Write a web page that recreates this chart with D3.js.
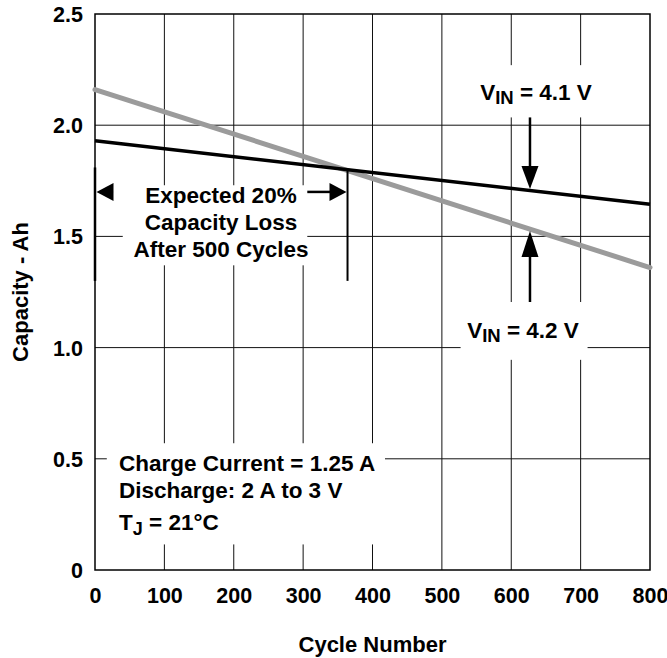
<!DOCTYPE html>
<html>
<head>
<meta charset="utf-8">
<script src="https://cdn.jsdelivr.net/npm/d3@7"></script>
<style>
  html, body { margin: 0; padding: 0; background: #fff; }
  svg { display: block; font-family: "Liberation Sans", Arial, Helvetica, sans-serif; font-weight: bold; }
</style>
</head>
<body>
<svg id="chart" width="667" height="658"></svg>
<script>
// Capacity vs. cycle number for two charge voltages
const cycles = [0, 800];
const capacityVin41 = [1.93, 1.645];   // V_IN = 4.1 V
const capacityVin42 = [2.16, 1.36];    // V_IN = 4.2 V
const xTicks = [0, 100, 200, 300, 400, 500, 600, 700, 800];
const yTicks = [0, 0.5, 1.0, 1.5, 2.0, 2.5];
const yTickLabels = ["0", "0.5", "1.0", "1.5", "2.0", "2.5"];

// annotation anchors (data units)
const lossStart = 0, lossEnd = 364, lossArrowY = 1.70, lossTop = 1.81, lossBottom = 1.30;
const vinArrowX = 627;

const margin = { left: 95, top: 14, right: 17, bottom: 88 };
const W = 667, H = 658;
const pw = W - margin.left - margin.right;
const ph = H - margin.top - margin.bottom;

const svg = d3.select("#chart");
const g = svg.append("g").attr("transform", `translate(${margin.left},${margin.top})`);

const x = d3.scaleLinear().domain([0, 800]).range([0, pw]);
const y = d3.scaleLinear().domain([0, 2.5]).range([ph, 0]);

// grid
g.append("g").selectAll("line").data(xTicks.slice(1, -1)).join("line")
  .attr("x1", d => x(d)).attr("x2", d => x(d)).attr("y1", 0).attr("y2", ph)
  .attr("stroke", "#111").attr("stroke-width", 1);
g.append("g").selectAll("line").data(yTicks.slice(1, -1)).join("line")
  .attr("y1", d => y(d)).attr("y2", d => y(d)).attr("x1", 0).attr("x2", pw)
  .attr("stroke", "#111").attr("stroke-width", 1);

// white panels behind the annotation text
const panels = [
  { x0: 40, x1: 306, y0: 1.73, y1: 1.37 },
  { x0: 17, x1: 418, y0: 0.57, y1: 0.115 },
  { x0: 540, x1: 720, y0: 2.27, y1: 2.035 },
  { x0: 527, x1: 710, y0: 1.205, y1: 0.945 }
];
g.append("g").selectAll("rect").data(panels).join("rect")
  .attr("x", d => x(d.x0)).attr("width", d => x(d.x1) - x(d.x0))
  .attr("y", d => y(d.y0)).attr("height", d => y(d.y1) - y(d.y0))
  .attr("fill", "#fff");

// frame
g.append("rect").attr("x", 0).attr("y", 0).attr("width", pw).attr("height", ph)
  .attr("fill", "none").attr("stroke", "#000").attr("stroke-width", 1.5);

// axes labels
const xAxis = d3.axisBottom(x).tickValues(xTicks).tickSize(0).tickPadding(0).tickFormat(d3.format("d"));
const xa = g.append("g").attr("transform", `translate(0,${ph})`).call(xAxis);
xa.select(".domain").remove();
xa.selectAll("text").attr("dy", null).attr("y", 33).attr("font-size", 21.5)
  .attr("font-family", "Liberation Sans, Arial, sans-serif").attr("font-weight", "bold").attr("fill", "#000");

const yAxis = d3.axisLeft(y).tickValues(yTicks).tickSize(0).tickPadding(0)
  .tickFormat((d, i) => yTickLabels[i]);
const ya = g.append("g").call(yAxis);
ya.select(".domain").remove();
ya.selectAll("text").attr("dy", null).attr("x", -12).attr("y", 7.5).attr("font-size", 21.5)
  .attr("font-family", "Liberation Sans, Arial, sans-serif").attr("font-weight", "bold").attr("fill", "#000");

svg.append("text").attr("x", margin.left + pw / 2).attr("y", 652).attr("text-anchor", "middle")
  .attr("font-size", 22).text("Cycle Number");
svg.append("text").attr("transform", `translate(28,${margin.top + ph / 2}) rotate(-90)`)
  .attr("text-anchor", "middle").attr("font-size", 22).text("Capacity - Ah");

// data lines
const line = d3.line().x(d => x(d[0])).y(d => y(d[1]));
g.append("path").datum(cycles.map((c, i) => [c, capacityVin42[i]])).attr("d", line)
  .attr("fill", "none").attr("stroke", "#9b9b9b").attr("stroke-width", 5).attr("stroke-linecap", "round");
g.append("path").datum(cycles.map((c, i) => [c, capacityVin41[i]])).attr("d", line)
  .attr("fill", "none").attr("stroke", "#000").attr("stroke-width", 3.5).attr("stroke-linecap", "butt");

// value on a straight series at a given cycle
const at = (arr, c) => arr[0] + (arr[1] - arr[0]) * (c - cycles[0]) / (cycles[1] - cycles[0]);

// arrowhead helper: tip at (tx,ty), direction dx,dy (unit), length L, half-width hw
function arrowHead(tx, ty, dx, dy, L, hw) {
  const bx = tx - dx * L, by = ty - dy * L;
  const px = -dy * hw, py = dx * hw;
  g.append("path").attr("d", `M${tx},${ty}L${bx + px},${by + py}L${bx - px},${by - py}Z`).attr("fill", "#000");
}

// 20 % loss span markers
g.append("line").attr("x1", x(lossStart)).attr("x2", x(lossStart)).attr("y1", y(lossTop)).attr("y2", y(lossBottom))
  .attr("stroke", "#000").attr("stroke-width", 2.5);
g.append("line").attr("x1", x(lossEnd)).attr("x2", x(lossEnd)).attr("y1", y(at(capacityVin41, lossEnd))).attr("y2", y(lossBottom))
  .attr("stroke", "#000").attr("stroke-width", 2);
const ay = y(lossArrowY);
g.append("line").attr("x1", x(lossStart) + 15).attr("x2", x(26)).attr("y1", ay).attr("y2", ay).attr("stroke", "#000").attr("stroke-width", 2.5);
arrowHead(x(lossStart) + 1.5, ay, -1, 0, 17, 9);
g.append("line").attr("x1", x(306)).attr("x2", x(lossEnd) - 15).attr("y1", ay).attr("y2", ay).attr("stroke", "#000").attr("stroke-width", 2.5);
arrowHead(x(lossEnd) - 1, ay, 1, 0, 17, 9);

// V_IN arrows
const ax = x(vinArrowX);
const tip41 = y(at(capacityVin41, vinArrowX)) - 1.5;
g.append("line").attr("x1", ax).attr("x2", ax).attr("y1", y(2.035)).attr("y2", tip41 - 20).attr("stroke", "#000").attr("stroke-width", 2.5);
arrowHead(ax, tip41, 0, 1, 23, 8.5);
const tip42 = y(at(capacityVin42, vinArrowX)) + 2;
g.append("line").attr("x1", ax).attr("x2", ax).attr("y1", tip42 + 20).attr("y2", y(1.205)).attr("stroke", "#000").attr("stroke-width", 2.5);
arrowHead(ax, tip42, 0, -1, 26, 8.5);

// text annotations
const ann = svg.append("g").attr("font-size", 22.5).attr("fill", "#000");
const lossLines = ["Expected 20%", "Capacity Loss", "After 500 Cycles"];
ann.append("g").selectAll("text").data(lossLines).join("text")
  .attr("x", 221).attr("y", (d, i) => 203 + i * 27).attr("text-anchor", "middle").text(d => d);

ann.append("text").attr("x", 119).attr("y", 471).text("Charge Current = 1.25 A");
ann.append("text").attr("x", 119).attr("y", 498).text("Discharge: 2 A to 3 V");
const tj = ann.append("text").attr("x", 119).attr("y", 530);
tj.append("tspan").text("T");
tj.append("tspan").attr("font-size", 18).attr("dy", 5).text("J");
tj.append("tspan").attr("dy", -5).text(" = 21°C");

function vinLabel(cx, by, val) {
  const t = ann.append("text").attr("x", cx).attr("y", by).attr("text-anchor", "middle");
  t.append("tspan").text("V");
  t.append("tspan").attr("font-size", 18.5).attr("dy", 4).text("IN");
  t.append("tspan").attr("dy", -4).text(` = ${val} V`);
}
vinLabel(536, 100, "4.1");
vinLabel(523, 338, "4.2");
</script>
</body>
</html>
